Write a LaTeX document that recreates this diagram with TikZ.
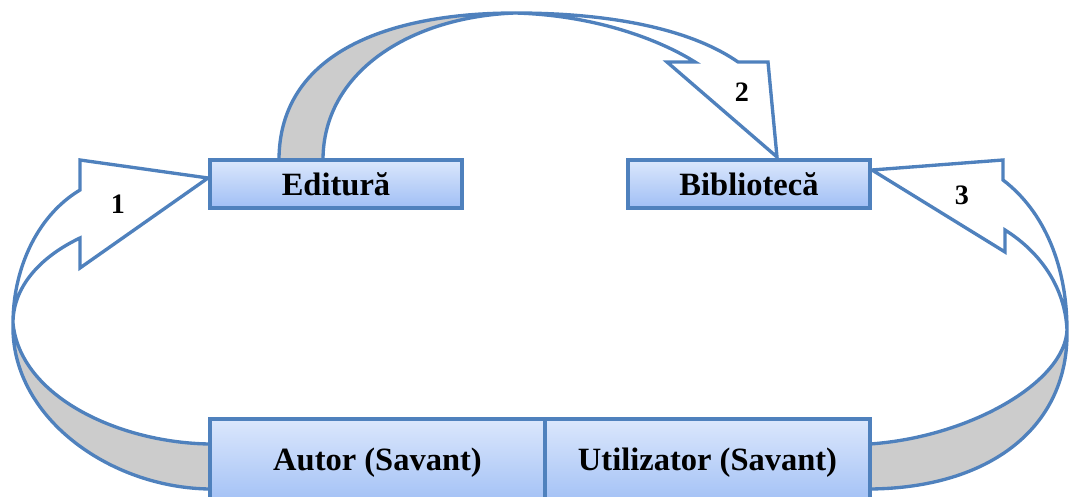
\documentclass[tikz,border=0pt]{standalone}
\usepackage{fontspec}
\setmainfont{Liberation Serif}
\usetikzlibrary{calc,shadows,backgrounds}
\definecolor{edge}{RGB}{79,129,189}
\definecolor{boxtop}{RGB}{219,231,252}
\definecolor{boxbot}{RGB}{160,191,245}
\definecolor{band}{RGB}{204,204,204}

\begin{document}
\begin{tikzpicture}[x=0.02cm, y=0.02cm,
  box/.style={draw=edge, line width=1.9pt, top color=boxtop, bottom color=boxbot,
    minimum height=0.96cm, inner sep=0pt, outer sep=0pt,
    font=\fontsize{18.5}{22}\selectfont\bfseries,
    drop shadow={shadow xshift=0.8pt, shadow yshift=-1pt, opacity=0.3}},
  ribbon/.style={draw=edge, line width=1.9pt, line join=miter},
  num/.style={font=\fontsize{16}{19}\selectfont\bfseries}]
  \useasboundingbox (0,0) rectangle (1069,497);
  \node[box, minimum width=5.04cm] (editura) at (336,313) {Editură};
  \node[box, minimum width=4.84cm] (biblioteca) at (749,313) {Bibliotecă};
  \node[box, minimum width=6.7cm, minimum height=1.76cm] (autor) at (377.5,34) {Autor (Savant)};
  \node[box, minimum width=6.5cm, minimum height=1.76cm] (utilizator) at (707.5,34) {Utilizator (Savant)};
  \node[num] (n1) at (118,293) {1};
  \node[num] (n2) at (742,405) {2};
  \node[num] (n3) at (962,302) {3};
  \coordinate (tip1) at ($(editura.west)+(-2,6)$);
  \coordinate (tip2) at ($(biblioteca.north)+(28,3)$);
  \coordinate (tip3) at ($(biblioteca.east)+(2,14)$);
  \begin{pgfonlayer}{background}
    \filldraw[ribbon, fill=band] (13,174) .. controls (20,100) and (120,54) .. ($(autor.north west)+(0,-25)$)
      -- ($(autor.north west)+(0,-70)$) .. controls (110,9) and (10,80) .. cycle;
    \filldraw[ribbon, fill=white] (13,174) .. controls (13,225) and (35,280) .. (80,307)
      -- (80,337) -- (tip1) -- (80,229) -- (80,259) .. controls (40,240) and (13,210) .. cycle;
    \filldraw[ribbon, fill=band] ($(editura.north)+(-57,0)$) .. controls (279,445) and (390,484) .. (515,484)
      .. controls (410,480) and (323,425) .. ($(editura.north)+(-13,0)$) -- cycle;
    \filldraw[ribbon, fill=white] (515,484) .. controls (620,484) and (695,465) .. (738,435)
      -- (768,435) -- (tip2) -- (667,435) -- (695,435) .. controls (655,460) and (590,482) .. cycle;
    \filldraw[ribbon, fill=band] (1067,167) .. controls (1065,115) and (970,60) .. ($(utilizator.north east)+(0,-25)$)
      -- ($(utilizator.north east)+(0,-70)$) .. controls (990,9) and (1069,70) .. cycle;
    \filldraw[ribbon, fill=white] (1067,167) .. controls (1067,230) and (1045,285) .. (1003,317)
      -- (1003,337) -- (tip3) -- (1005,245) -- (1005,267) .. controls (1040,245) and (1065,210) .. cycle;
  \end{pgfonlayer}
\end{tikzpicture}
\end{document}
